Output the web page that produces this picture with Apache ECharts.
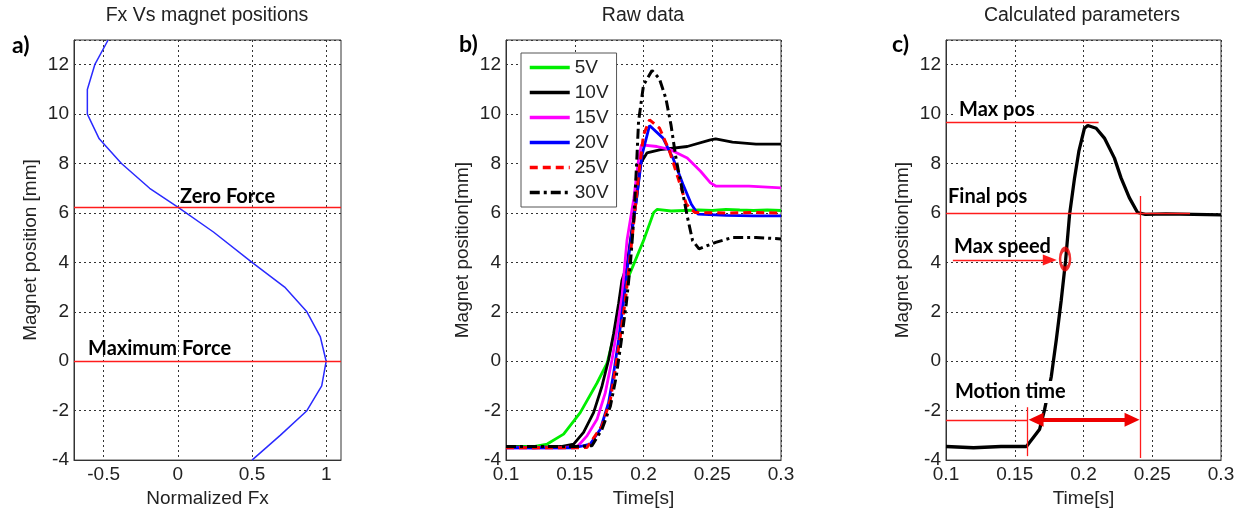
<!DOCTYPE html>
<html><head><meta charset="utf-8">
<script src="https://cdn.jsdelivr.net/npm/echarts@6/dist/echarts.min.js"></script>
<style>html,body{margin:0;padding:0;background:#fff}#c{width:1249px;height:513px}</style>
</head><body><div id="c"></div>
<script>
// ---------- DATA ----------
const forceX = [-0.47,-0.56,-0.61,-0.61,-0.53,-0.38,-0.19,0,0.24,0.5,0.72,0.87,0.96,1.0,0.97,0.87,0.69,0.5];
const forceY = [13,12,11,10,9,8,7,6.24,5.23,4.0,3.0,2.0,1.0,0,-1,-2,-3,-4];
const zeroForceY = 6.25, maxForceY = 0;
const forceTicks = [-0.5,0,0.5,1];

const seriesNames = ['5V','10V','15V','20V','25V','30V'];
const raw5V = [[0.1,-3.45],[0.12,-3.45],[0.13,-3.35],[0.1419,-2.95],[0.154,-2.08],[0.1662,-0.88],[0.1735,-0.08],[0.1783,1.0],[0.1831,2.07],[0.188,3.27],[0.193,3.94],[0.2,4.88],[0.2074,6.02],[0.21,6.15],[0.22,6.08],[0.23,6.1],[0.24,6.12],[0.25,6.1],[0.26,6.15],[0.27,6.12],[0.28,6.1],[0.29,6.12],[0.3,6.1]];
const raw10V = [[0.1,-3.45],[0.12,-3.5],[0.14,-3.45],[0.1492,-3.35],[0.1564,-2.88],[0.1637,-2.08],[0.1698,-1.01],[0.1746,0.06],[0.1783,1.13],[0.1819,2.34],[0.1843,3.27],[0.188,3.9],[0.1915,5.3],[0.195,6.6],[0.1978,8.0],[0.2025,8.43],[0.2124,8.56],[0.2318,8.69],[0.2487,8.96],[0.2525,9.0],[0.2647,8.87],[0.2818,8.79],[0.3,8.79]];
const raw15V = [[0.1,-3.5],[0.14,-3.5],[0.152,-3.45],[0.1589,-3.02],[0.1662,-2.35],[0.1722,-1.28],[0.1771,0.06],[0.1807,1.27],[0.1843,2.6],[0.188,4.9],[0.193,6.6],[0.1965,8.2],[0.1985,8.76],[0.2098,8.69],[0.2196,8.56],[0.2318,8.22],[0.2415,7.69],[0.2487,7.22],[0.2525,7.09],[0.2767,7.09],[0.3,7.02]];
const raw20V = [[0.1,-3.5],[0.15,-3.5],[0.1613,-3.35],[0.1686,-2.75],[0.1746,-1.68],[0.1783,-0.47],[0.1819,0.86],[0.1856,2.47],[0.19,4.6],[0.195,6.6],[0.199,8.36],[0.2044,9.54],[0.2142,9.03],[0.2214,8.22],[0.2287,7.16],[0.2348,6.35],[0.2397,5.95],[0.26,5.9],[0.28,5.88],[0.3,5.88]];
const raw25V = [[0.1,-3.5],[0.15,-3.5],[0.1589,-3.49],[0.1698,-2.62],[0.1759,-1.55],[0.1795,-0.34],[0.1831,1.0],[0.1868,2.47],[0.19,4.07],[0.1965,7.55],[0.2,9.16],[0.2044,9.77],[0.2117,9.43],[0.219,8.49],[0.2251,7.42],[0.2312,6.35],[0.2373,6.02],[0.26,6.0],[0.28,6.02],[0.3,6.0]];
const raw30V = [[0.1,-3.45],[0.15,-3.45],[0.1625,-3.42],[0.1698,-2.75],[0.1759,-1.82],[0.1802,-0.61],[0.1836,0.73],[0.1875,2.34],[0.1904,3.9],[0.193,5.8],[0.195,8.0],[0.1964,9.7],[0.2,11.17],[0.2062,11.77],[0.2115,11.44],[0.2163,10.63],[0.22,9.56],[0.2236,8.22],[0.2273,7.17],[0.232,5.82],[0.2357,4.88],[0.2404,4.55],[0.2525,4.81],[0.2647,5.01],[0.2818,5.01],[0.3,4.95]];

const calc = [[0.1,-3.45],[0.12,-3.5],[0.14,-3.45],[0.1585,-3.45],[0.1681,-2.75],[0.1717,-1.96],[0.1766,-0.61],[0.1802,0.86],[0.1838,2.47],[0.187,4.08],[0.1899,5.95],[0.1935,7.42],[0.1966,8.49],[0.2007,9.43],[0.2031,9.54],[0.2092,9.43],[0.2152,9.03],[0.2225,8.22],[0.2273,7.42],[0.2333,6.62],[0.2393,6.02],[0.245,5.94],[0.26,5.96],[0.28,5.94],[0.3,5.92]];
const maxPosY = 9.68, maxPosEndT = 0.211;
const finalPosY = 6.0, finalPosEndT = 0.2775;
const speedPoint = [0.1866, 4.14];
const speedArrowT = [0.105, 0.1755], speedArrowY = 4.1;
const motionY = -2.37, motionStartT = 0.159, motionEndT = 0.2413;
const motionArrowT = [0.1655, 0.2353];
const motionStartYs = [-1.86, -3.84], motionEndYs = [6.69, -3.91];

// ---------- STYLE ----------
const FONT = '"Liberation Sans", Arial, sans-serif';
const BFONT = 'Lato, "Open Sans", sans-serif';
const split = {show:true, lineStyle:{color:'#333', type:[2,3], width:1}};
const lab = {color:'#222', fontSize:19, fontFamily:FONT, margin:5};
const nameStyle = {color:'#222', fontSize:19, fontFamily:FONT};
const RED = '#ff1c1c';
const axLine = {show:true, onZero:false, lineStyle:{color:'#333'}};

function yAx(i, name){
  return {type:'value', gridIndex:i, min:-4, max:13, interval:2, name:name, nameLocation:'middle', nameGap:34,
    nameTextStyle:nameStyle, axisLabel:Object.assign({showMaxLabel:false}, lab), splitLine:split,
    axisLine:axLine, axisTick:{show:false}};
}
function tAx(i){
  return {type:'value', gridIndex:i, min:0.1, max:0.3, interval:0.05, name:'Time[s]', nameLocation:'middle', nameGap:28,
    nameTextStyle:nameStyle, axisLabel:lab, splitLine:split, axisLine:axLine, axisTick:{show:false}};
}
const gridBase = {top:40, height:421, show:true, borderColor:'#333', borderWidth:1};

const lineStyles = [
  {color:'#00ee00', width:2.8},
  {color:'#000', width:2.8},
  {color:'#ff00ff', width:2.8},
  {color:'#0000ff', width:2.8},
  {color:'#ff0000', width:3, type:[8,5]},
  {color:'#000', width:3, type:[10,4,3,4]}
];
const rawData = [raw5V, raw10V, raw15V, raw20V, raw25V, raw30V];

const thin = {color:RED, width:1.3, type:'solid', opacity:1};
function seg(a,b,style,symA,symB,size){
  return [{coord:a, lineStyle:style||thin, symbol:symA||'none', symbolSize:size||0},
          {coord:b, symbol:symB||'none', symbolSize:size||0}];
}

const series = [];
series.push({type:'line', xAxisIndex:0, yAxisIndex:0, symbol:'none', silent:true,
  data: forceX.map((x,i)=>[x, forceY[i]]), lineStyle:{color:'#2a2aff', width:1.5},
  markLine:{silent:true, symbol:'none', label:{show:false}, lineStyle:thin, z:10,
    data:[{yAxis:zeroForceY, lineStyle:thin},{yAxis:maxForceY, lineStyle:thin}]}});
rawData.forEach((d,i)=>{
  series.push({type:'line', name:seriesNames[i], xAxisIndex:1, yAxisIndex:1, symbol:'none', silent:true,
    data:d, lineStyle:lineStyles[i], itemStyle:{color:lineStyles[i].color}});
});
series.push({type:'line', xAxisIndex:2, yAxisIndex:2, symbol:'none', silent:true, data:calc,
  lineStyle:{color:'#000', width:3.3},
  markLine:{silent:true, symbol:'none', label:{show:false}, lineStyle:thin, z:10,
    data:[
      seg([0.1,maxPosY],[maxPosEndT,maxPosY]),
      seg([0.1,finalPosY],[finalPosEndT,finalPosY]),
      seg([0.1,motionY],[motionStartT,motionY]),
      seg([motionStartT,motionStartYs[0]],[motionStartT,motionStartYs[1]]),
      seg([motionEndT,motionEndYs[0]],[motionEndT,motionEndYs[1]]),
      seg([speedArrowT[0],speedArrowY],[speedArrowT[1],speedArrowY], thin, 'none','triangle',[11,14]),
      seg([motionArrowT[0],motionY],[motionArrowT[1],motionY], {color:'#ee0000',width:4,type:'solid'}, 'triangle','triangle',[14,15])
    ]}});
series.push({type:'scatter', xAxisIndex:2, yAxisIndex:2, silent:true, data:[speedPoint], symbol:'circle', symbolSize:[10,20],
  itemStyle:{color:'rgba(0,0,0,0)', borderColor:'#ee0000', borderWidth:3.5}, z:5});

function txt(x,y,text,font,extra){
  return {type:'text', x:x, y:y, z:100, silent:true, style:Object.assign({text:text, font:font, fill:'#000',
    textAlign:'left', textVerticalAlign:'middle', align:'left', verticalAlign:'middle'}, extra||{})};
}
const ctxt = (x,y,t)=>txt(x,y,t,'19.5px '+FONT,{fill:'#222', textAlign:'center', align:'center'});
const btxt = (x,y,t,bg)=>txt(x,y,t,'bold 20px '+BFONT, bg?{backgroundColor:'#fff', padding:[1,3]}:{});

const option = {
  animation:false,
  backgroundColor:'#fff',
  grid:[Object.assign({left:74, width:267}, gridBase), Object.assign({left:506, width:275}, gridBase), Object.assign({left:946, width:275}, gridBase)],
  xAxis:[
    {type:'value', gridIndex:0, min:-0.7, max:1.1, name:'Normalized Fx', nameLocation:'middle', nameGap:28, nameTextStyle:nameStyle,
      axisLabel:Object.assign({customValues:forceTicks}, lab), axisTick:{show:false, customValues:forceTicks}, splitLine:split,
      axisLine:axLine},
    tAx(1), tAx(2)
  ],
  yAxis:[yAx(0,'Magnet position [mm]'), yAx(1,'Magnet position[mm]'), yAx(2,'Magnet position[mm]')],
  legend:{data:seriesNames, orient:'vertical', left:521, top:53, itemWidth:40, itemHeight:14, itemGap:6,
    padding:[5,8,5,7], borderColor:'#555', borderWidth:1, backgroundColor:'#fff',
    itemStyle:{opacity:0}, lineStyle:{width:3.5},
    textStyle:{fontSize:19, fontFamily:FONT, color:'#222'}, selectedMode:false},
  graphic:[
    ctxt(207,16,'Fx Vs magnet positions'), ctxt(643,16,'Raw data'), ctxt(1082,16,'Calculated parameters'),
    txt(12,46,'a)','bold 23px '+BFONT), txt(459,45,'b)','bold 23px '+BFONT), txt(892,45,'c)','bold 23px '+BFONT),
    btxt(180,197,'Zero Force'), btxt(88,349,'Maximum Force'),
    btxt(956,110,'Max pos',true), btxt(948,197,'Final pos'), btxt(954,247,'Max speed'), btxt(952,392,'Motion time',true)
  ],
  series:series
};
const chart = echarts.init(document.getElementById('c'), null, {renderer:'canvas'});
chart.setOption(option);
</script></body></html>
